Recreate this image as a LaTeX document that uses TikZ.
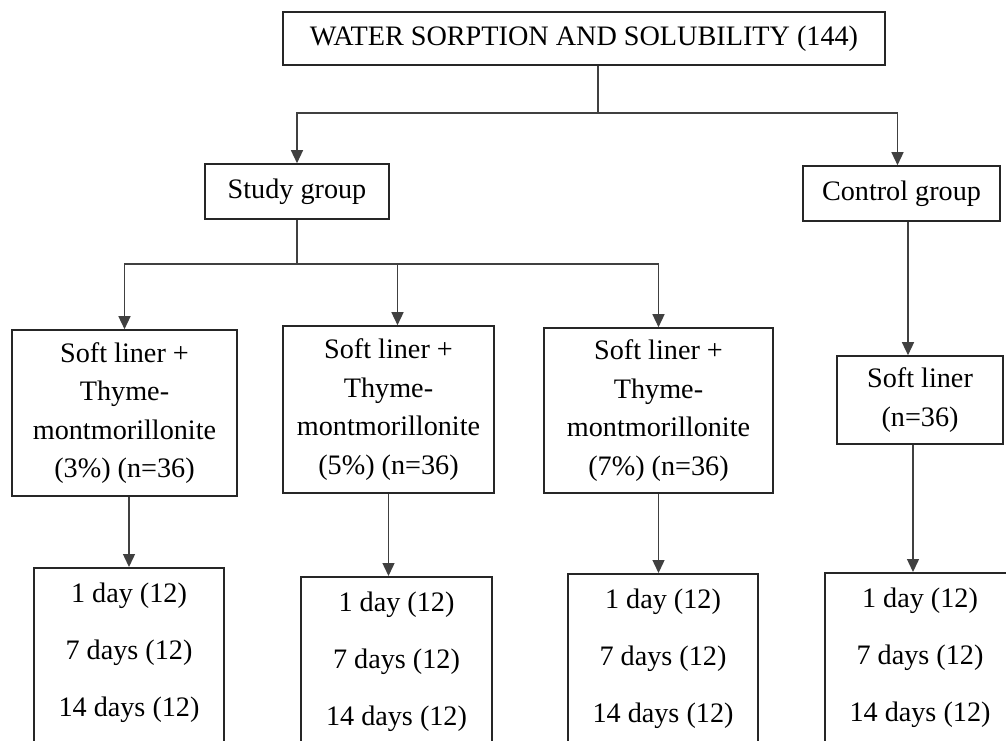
\documentclass[tikz,border=0pt]{standalone}
\usepackage{fontspec}
\setmainfont{Liberation Serif}
\usetikzlibrary{positioning,arrows.meta}

\begin{document}
\begin{tikzpicture}[x=0.5pt, y=-0.5pt, node/.style={rectangle, draw=black!85, line width=0.8pt, align=center, inner sep=0pt, font=\fontsize{14.1}{19.2}\selectfont}, days/.style={node, anchor=north, text width=80pt, align=flush center, font=\fontsize{14.1}{28.5}\selectfont, text height=17.5pt, text depth=100pt}, link/.style={draw=black!75, line width=0.7pt}, arr/.style={link, -{Triangle[width=6pt, length=6.5pt]}}]
      \clip (0,0) rectangle (1006,740);

      \node [node, minimum width=301pt, minimum height=26.5pt] (title) at (584,38.5) {WATER SORPTION AND SOLUBILITY (144)};

      \node [node, minimum width=92pt, minimum height=27.5pt] (study) at (297,191.5) {Study group};

      \node [node, minimum width=98.5pt, minimum height=27.5pt] (ctrl) at (901.5,193.5) {Control group};

      \node [node, minimum width=112.5pt, minimum height=83pt] (s3) at (124.5,413) {Soft liner +\\ Thyme-\\ montmorillonite\\ (3\%) (n=36)};

      \node [node, minimum width=105.5pt, minimum height=83.5pt] (s5) at (388.5,409.5) {Soft liner +\\ Thyme-\\ montmorillonite\\ (5\%) (n=36)};

      \node [node, minimum width=114.5pt, minimum height=82.5pt] (s7) at (658.5,410.5) {Soft liner +\\ Thyme-\\ montmorillonite\\ (7\%) (n=36)};

      \node [node, minimum width=83pt, minimum height=44pt] (soft) at (920,400) {Soft liner\\ (n=36)};

      \node [days, minimum width=95pt] (d3) at (129,567) {1 day (12)\\ 7 days (12)\\ 14 days (12)};

      \node [days, minimum width=95.5pt] (d5) at (396.5,576) {1 day (12)\\ 7 days (12)\\ 14 days (12)};

      \node [days, minimum width=95pt] (d7) at (663,573) {1 day (12)\\ 7 days (12)\\ 14 days (12)};

      \node [days, minimum width=95pt] (dc) at (920,572) {1 day (12)\\ 7 days (12)\\ 14 days (12)};

      \draw [link] ([xshift=7pt]title.south) -- ++(0,47) coordinate (tj);

      \draw [arr] (tj) -| (study.north);

      \draw [arr] (tj) -| ([xshift=-2pt]ctrl.north);

      \draw [link] (study.south) -- ++(0,44) coordinate (sj);

      \draw [arr] (sj) -| (s3.north);

      \draw [arr] (sj) -| ([xshift=4.5pt]s5.north);

      \draw [arr] (sj) -| (s7.north);

      \draw [arr] ([xshift=3.25pt]ctrl.south) -- ([xshift=3.25pt]ctrl.south |- soft.north);

      \draw [arr] (d3.north |- s3.south) -- (d3.north);

      \draw [arr] (s5.south) -- (s5.south |- d5.north);

      \draw [arr] (s7.south) -- (s7.south |- d7.north);

      \draw [arr] ([xshift=-3.5pt]soft.south) -- ([xshift=-3.5pt]soft.south |- dc.north);
    \end{tikzpicture}
\end{document}
